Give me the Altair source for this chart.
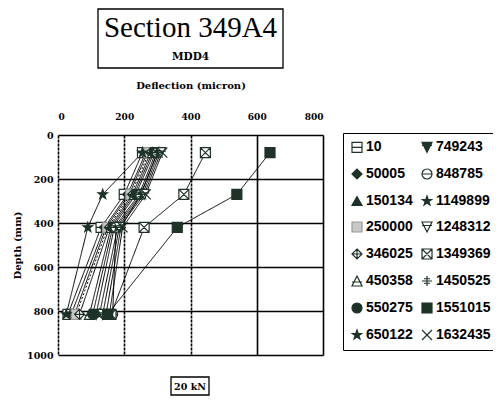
import altair as alt
import pandas as pd

# ---- data ----
depths = [80, 270, 420, 815]
loads_left = ["10", "50005", "150134", "250000", "346025", "450358", "550275", "650122"]
loads_right = ["749243", "848785", "1149899", "1248312", "1349369", "1450525", "1551015", "1632435"]
deflections = {
    "10":      [255, 200, 130, 30],
    "50005":   [265, 210, 140, 40],
    "150134":  [270, 215, 145, 50],
    "250000":  [275, 220, 150, 55],
    "346025":  [280, 225, 155, 65],
    "450358":  [285, 230, 160, 95],
    "550275":  [290, 235, 165, 105],
    "650122":  [255, 135, 90, 25],
    "749243":  [295, 245, 170, 115],
    "848785":  [300, 250, 175, 165],
    "1149899": [305, 255, 180, 125],
    "1248312": [310, 260, 185, 135],
    "1349369": [445, 380, 260, 160],
    "1450525": [300, 250, 190, 145],
    "1551015": [640, 540, 360, 150],
    "1632435": [315, 265, 195, 155],
}
dotted_series = ["250000"]
x_ticks = [0, 200, 400, 600, 800]
y_ticks = [0, 200, 400, 600, 800, 1000]

# legend fills column by column
legend_order = loads_left + loads_right

DARK = "#1e3328"
STAR = "M0,-1L0.24,-0.33L0.95,-0.31L0.38,0.13L0.59,0.81L0,0.4L-0.59,0.81L-0.38,0.13L-0.95,-0.31L-0.24,-0.33Z"
shape_map = {
    "10": "M-1,-1H1V1H-1Z M-1,0H1",
    "50005": "diamond",
    "150134": "triangle-up",
    "250000": "square",
    "346025": "M0,-1L1,0L0,1L-1,0Z M-1,0H1 M0,-1V1",
    "450358": "M0,-1L1,1H-1Z M-1,0.2H1",
    "550275": "circle",
    "650122": STAR,
    "749243": "M-1,-1H1L0,1Z M-1,-0.4H1",
    "848785": "M-1,0A1,1 0 1,0 1,0A1,1 0 1,0 -1,0Z M-1,0H1",
    "1149899": STAR,
    "1248312": "M-1,-1H1L0,1Z M-1,-0.3H1",
    "1349369": "M-1,-1H1V1H-1Z M-1,-1L1,1 M1,-1L-1,1",
    "1450525": "M-1,0H1 M0,-1V1 M-0.6,-0.45H0.6 M-0.6,0.45H0.6",
    "1551015": "square",
    "1632435": "M-1,-1L1,1 M1,-1L-1,1",
}
fill_map = {
    "10": "white", "50005": DARK, "150134": DARK, "250000": "#c8c8c8",
    "346025": "white", "450358": "white", "550275": DARK, "650122": DARK,
    "749243": DARK, "848785": "white", "1149899": DARK, "1248312": "white",
    "1349369": "white", "1450525": "white", "1551015": DARK, "1632435": "white",
}
stroke_map = {k: ("#999999" if k == "250000" else DARK) for k in legend_order}

rows = []
for load, vals in deflections.items():
    for d, v in zip(depths, vals):
        rows.append({
            "Load": load, "Series": "s" + load, "Depth": d, "Deflection": v,
            "Style": "dotted" if load in dotted_series else "solid",
        })
df = pd.DataFrame(rows)

serif = "DejaVu Serif"

x_enc = alt.X(
    "Deflection:Q",
    scale=alt.Scale(domain=[0, 800], nice=False),
    axis=alt.Axis(
        orient="top", values=x_ticks, title="Deflection (micron)",
        titleFont=serif, titleFontWeight="bold", titleFontSize=10, titlePadding=22,
        labelFont=serif, labelFontWeight="bold", labelFontSize=9, labelPadding=14,
        labelColor="black", titleColor="black",
        ticks=False, domain=False, grid=True, gridColor="black", gridWidth=1.6,
        gridOpacity=1,
        gridDash=alt.condition(alt.datum.value <= 400, alt.value([3, 1]), alt.value([])),
    ),
)
y_enc = alt.Y(
    "Depth:Q",
    scale=alt.Scale(domain=[0, 1000], reverse=True, nice=False),
    axis=alt.Axis(
        values=y_ticks, title="Depth (mm)", format="d",
        titleFont=serif, titleFontWeight="bold", titleFontSize=10, titlePadding=4,
        labelFont=serif, labelFontWeight="bold", labelFontSize=9.5, labelPadding=5,
        labelColor="black", titleColor="black",
        ticks=False, domain=False, grid=True, gridColor="black", gridWidth=1.6,
        gridOpacity=1,
    ),
)

base = alt.Chart(df)

lines = base.mark_line(color="black", strokeWidth=1).encode(
    x=x_enc,
    y=y_enc,
    detail="Series:N",
    order="Depth:Q",
    strokeDash=alt.StrokeDash(
        "Style:N",
        scale=alt.Scale(domain=["solid", "dotted"], range=[[1, 0], [2, 2]]),
        legend=None,
    ),
)

legend_cfg = alt.Legend(
    title=None, orient="none", legendX=285, legendY=-2, columns=2,
    strokeColor="black", padding=7, columnPadding=6, rowPadding=11,
    labelFont="Liberation Sans", labelFontWeight="bold", labelFontSize=14,
    labelColor="black", symbolSize=100,
    symbolStrokeWidth=1.2, labelOffset=2, cornerRadius=0,
)

points = base.mark_point(size=100, opacity=1, strokeWidth=1.2).encode(
    x="Deflection:Q",
    y="Depth:Q",
    shape=alt.Shape(
        "Load:N",
        scale=alt.Scale(domain=legend_order, range=[shape_map[k] for k in legend_order]),
        legend=legend_cfg,
    ),
    fill=alt.Fill(
        "Load:N",
        scale=alt.Scale(domain=legend_order, range=[fill_map[k] for k in legend_order]),
        legend=legend_cfg,
    ),
    stroke=alt.Stroke(
        "Load:N",
        scale=alt.Scale(domain=legend_order, range=[stroke_map[k] for k in legend_order]),
        legend=legend_cfg,
    ),
)

ann = pd.DataFrame({"k": [0]})
title_box = alt.Chart(ann).mark_rect(fill="white", stroke="black", strokeWidth=1.3).encode(
    x=alt.value(40), x2=alt.value(225), y=alt.value(-126), y2=alt.value(-67)
)
title_txt = alt.Chart(ann).mark_text(
    text="Section 349A4", font="Liberation Serif", fontSize=29, color="black",
    align="center", baseline="alphabetic",
).encode(x=alt.value(132.5), y=alt.value(-98))
sub_txt = alt.Chart(ann).mark_text(
    text="MDD4", font=serif, fontSize=10.5, fontWeight="bold", color="black",
    align="center", baseline="alphabetic",
).encode(x=alt.value(132.5), y=alt.value(-75))
kn_box = alt.Chart(ann).mark_rect(fill="white", stroke="black", strokeWidth=1.3).encode(
    x=alt.value(113), x2=alt.value(151), y=alt.value(242), y2=alt.value(260)
)
kn_txt = alt.Chart(ann).mark_text(
    text="20 kN", font=serif, fontSize=9.5, fontWeight="bold", color="black",
    align="center", baseline="middle",
).encode(x=alt.value(132), y=alt.value(252))

chart = alt.layer(lines, points, title_box, title_txt, sub_txt, kn_box, kn_txt).properties(
    width=265, height=220,
    padding={"left": 50, "top": 127, "right": 170, "bottom": 43},
    autosize=alt.AutoSizeParams(type="none"),
).configure_view(stroke="black", strokeWidth=2).configure(background="white")

chart.save("out.html", embed_options={"renderer": "svg", "actions": False})
